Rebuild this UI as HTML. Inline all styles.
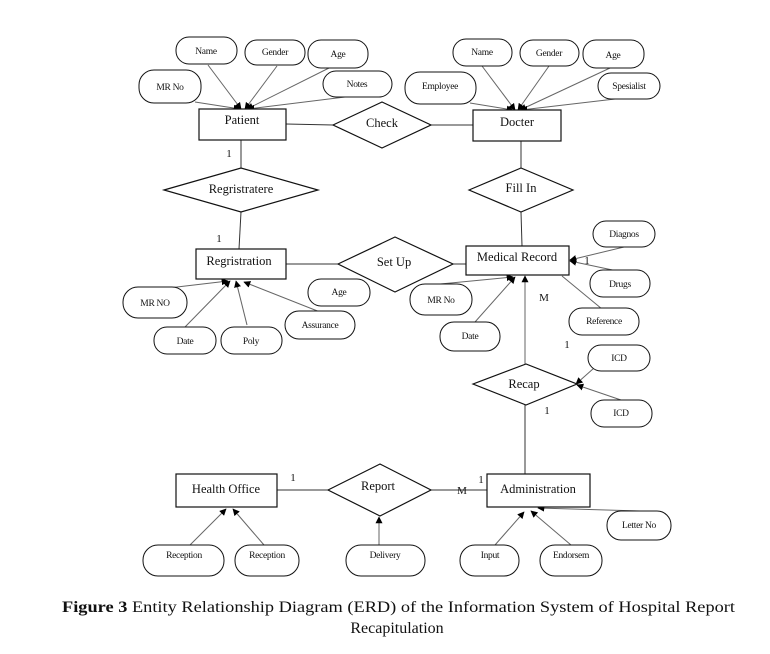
<!DOCTYPE html>
<html><head><meta charset="utf-8"><style>
html,body{margin:0;padding:0;background:#fff;}
svg{display:block;}
text{font-family:"Liberation Serif",serif;fill:#111;}
.a{font-size:9.5px;letter-spacing:-0.3px;}
.e{font-size:12.5px;}
.s{font-family:"Liberation Sans",sans-serif;font-size:11px;}
</style></head><body>
<svg width="770" height="654" viewBox="0 0 770 654" xmlns="http://www.w3.org/2000/svg">
<defs>
<marker id="ar" viewBox="0 0 10 10" refX="9" refY="5" markerWidth="7" markerHeight="7" orient="auto" markerUnits="userSpaceOnUse">
<path d="M0,0 L10,5 L0,10 z" fill="#000"/></marker>
</defs>
<g stroke="#666" stroke-width="1" fill="none">
<!-- patient attrs -->
<line x1="195" y1="102" x2="240" y2="109" marker-end="url(#ar)"/>
<line x1="208" y1="65" x2="241" y2="109" marker-end="url(#ar)"/>
<line x1="277" y1="66" x2="245" y2="109" marker-end="url(#ar)"/>
<line x1="329" y1="68" x2="247" y2="109" marker-end="url(#ar)"/>
<line x1="345" y1="97" x2="248" y2="109" marker-end="url(#ar)"/>
<!-- docter attrs -->
<line x1="470" y1="103" x2="513" y2="110" marker-end="url(#ar)"/>
<line x1="482" y1="66" x2="515" y2="110" marker-end="url(#ar)"/>
<line x1="549" y1="66" x2="518" y2="110" marker-end="url(#ar)"/>
<line x1="610" y1="68" x2="520" y2="110" marker-end="url(#ar)"/>
<line x1="615" y1="99" x2="521" y2="110" marker-end="url(#ar)"/>
<!-- registration attrs -->
<line x1="160" y1="289" x2="228" y2="281" marker-end="url(#ar)"/>
<line x1="185" y1="327" x2="230" y2="281" marker-end="url(#ar)"/>
<line x1="247" y1="325" x2="236" y2="281" marker-end="url(#ar)"/>
<line x1="320" y1="312" x2="244" y2="282" marker-end="url(#ar)"/>
<!-- MR attrs -->
<line x1="430" y1="285" x2="513" y2="277" marker-end="url(#ar)"/>
<line x1="475" y1="322" x2="515" y2="277" marker-end="url(#ar)"/>
<line x1="525" y1="364" x2="525" y2="276" marker-end="url(#ar)"/>
<line x1="562" y1="276" x2="602" y2="309"/>
<line x1="624" y1="247" x2="570" y2="260" marker-end="url(#ar)"/>
<line x1="622" y1="272" x2="570" y2="261" marker-end="url(#ar)"/>
<line x1="620" y1="345" x2="576" y2="384" marker-end="url(#ar)"/>
<line x1="621" y1="400" x2="577" y2="385" marker-end="url(#ar)"/>
<!-- bottom attrs -->
<line x1="190" y1="545" x2="226" y2="509" marker-end="url(#ar)"/>
<line x1="264" y1="545" x2="233" y2="509" marker-end="url(#ar)"/>
<line x1="379" y1="545" x2="379" y2="517" marker-end="url(#ar)"/>
<line x1="495" y1="545" x2="524" y2="512" marker-end="url(#ar)"/>
<line x1="571" y1="545" x2="531" y2="511" marker-end="url(#ar)"/>
<line x1="640" y1="511" x2="538" y2="508" marker-end="url(#ar)"/>
</g>
<g stroke="#333" stroke-width="1" fill="none">
<line x1="286" y1="124" x2="333" y2="125"/>
<line x1="431" y1="125" x2="473" y2="125"/>
<line x1="241" y1="140" x2="241" y2="168"/>
<line x1="241" y1="212" x2="239" y2="249"/>
<line x1="521" y1="141" x2="521" y2="168"/>
<line x1="521" y1="212" x2="522" y2="246"/>
<line x1="286" y1="264" x2="338" y2="264"/>
<line x1="453" y1="264" x2="466" y2="264"/>
<line x1="525" y1="405" x2="525" y2="474"/>
<line x1="277" y1="490" x2="328" y2="490"/>
<line x1="431" y1="490" x2="487" y2="490"/>
</g>
<g stroke="#111" stroke-width="1.2" fill="#fff">
<rect x="199" y="109" width="87" height="31"/>
<rect x="473" y="110" width="88" height="31"/>
<rect x="196" y="249" width="90" height="30"/>
<rect x="466" y="246" width="103" height="29"/>
<rect x="176" y="474" width="101" height="33"/>
<rect x="487" y="474" width="103" height="33"/>
<polygon points="333,125 382,102 431,125 382,148"/>
<polygon points="164,190 241,168 318,190 241,212"/>
<polygon points="469,190 521,168 573,190 521,212"/>
<polygon points="338,264 395,237 453,264 395,292"/>
<polygon points="473,384 526,364 577,384 526,405"/>
<polygon points="328,490 380,464 431,490 380,516"/>
</g>
<g stroke="#111" stroke-width="1" fill="#fff">
<rect x="176" y="37" width="61" height="27" rx="13"/>
<rect x="245" y="40" width="60" height="25" rx="12"/>
<rect x="308" y="40" width="60" height="28" rx="13"/>
<rect x="139" y="70" width="62" height="33" rx="15"/>
<rect x="323" y="71" width="69" height="26" rx="13"/>
<rect x="453" y="39" width="59" height="27" rx="13"/>
<rect x="520" y="40" width="59" height="26" rx="13"/>
<rect x="583" y="40" width="61" height="28" rx="13"/>
<rect x="405" y="72" width="71" height="32" rx="15"/>
<rect x="598" y="73" width="62" height="26" rx="13"/>
<rect x="593" y="221" width="62" height="26" rx="13"/>
<rect x="590" y="270" width="60" height="27" rx="13"/>
<rect x="569" y="308" width="70" height="27" rx="13"/>
<rect x="588" y="345" width="62" height="26" rx="13"/>
<rect x="591" y="400" width="61" height="27" rx="13"/>
<rect x="123" y="287" width="64" height="31" rx="15"/>
<rect x="154" y="327" width="62" height="27" rx="13"/>
<rect x="221" y="327" width="61" height="27" rx="13"/>
<rect x="308" y="279" width="62" height="27" rx="13"/>
<rect x="285" y="311" width="70" height="28" rx="14"/>
<rect x="410" y="284" width="62" height="31" rx="15"/>
<rect x="440" y="322" width="60" height="29" rx="14"/>
<rect x="607" y="511" width="64" height="29" rx="14"/>
<rect x="143" y="545" width="81" height="31" rx="15"/>
<rect x="235" y="545" width="64" height="31" rx="15"/>
<rect x="346" y="545" width="79" height="31" rx="15"/>
<rect x="460" y="545" width="59" height="31" rx="15"/>
<rect x="540" y="545" width="62" height="31" rx="15"/>
</g>
<g class="a" text-anchor="middle">
<text x="206" y="54">Name</text>
<text x="275" y="55">Gender</text>
<text x="338" y="57">Age</text>
<text x="170" y="90">MR No</text>
<text x="357" y="87">Notes</text>
<text x="482" y="55">Name</text>
<text x="549" y="56">Gender</text>
<text x="613" y="58">Age</text>
<text x="440" y="89">Employee</text>
<text x="629" y="89">Spesialist</text>
<text x="624" y="237">Diagnos</text>
<text x="620" y="287">Drugs</text>
<text x="604" y="324">Reference</text>
<text x="619" y="361">ICD</text>
<text x="621" y="416">ICD</text>
<text x="155" y="306">MR NO</text>
<text x="185" y="344">Date</text>
<text x="251" y="344">Poly</text>
<text x="339" y="295">Age</text>
<text x="320" y="328">Assurance</text>
<text x="441" y="303">MR No</text>
<text x="470" y="339">Date</text>
<text x="639" y="528">Letter No</text>
<text x="184" y="558">Reception</text>
<text x="267" y="558">Reception</text>
<text x="385" y="558">Delivery</text>
<text x="490" y="558">Input</text>
<text x="571" y="558">Endorsem</text>
</g>
<g class="e" text-anchor="middle">
<text x="242" y="124">Patient</text>
<text x="382" y="127">Check</text>
<text x="517" y="126">Docter</text>
<text x="241" y="193">Regristratere</text>
<text x="521" y="192">Fill In</text>
<text x="239" y="265">Regristration</text>
<text x="394" y="266">Set Up</text>
<text x="517" y="261">Medical Record</text>
<text x="524" y="388">Recap</text>
<text x="226" y="493">Health Office</text>
<text x="378" y="490">Report</text>
<text x="538" y="493">Administration</text>
</g>
<g class="s" text-anchor="middle">
<text x="229" y="157">1</text>
<text x="219" y="242">1</text>
<text x="544" y="301">M</text>
<text x="567" y="348">1</text>
<text x="587" y="264">1</text>
<text x="547" y="414">1</text>
<text x="293" y="481">1</text>
<text x="462" y="494">M</text>
<text x="481" y="483">1</text>
</g>
<text x="62" y="612" font-size="16" textLength="673" lengthAdjust="spacingAndGlyphs"><tspan font-weight="bold">Figure 3</tspan> Entity Relationship Diagram (ERD) of the Information System of Hospital Report</text>
<text x="397" y="633" font-size="16" text-anchor="middle">Recapitulation</text>
</svg>
</body></html>
